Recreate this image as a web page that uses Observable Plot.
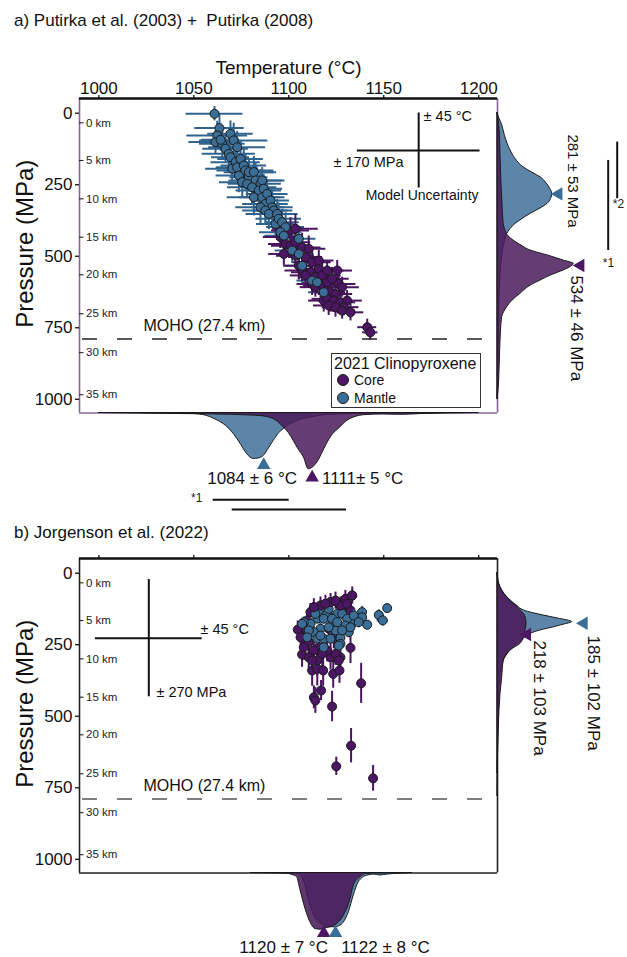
<!DOCTYPE html>
<html>
<head>
<meta charset="utf-8">
<script src="https://cdn.jsdelivr.net/npm/d3@7"></script>
<script src="https://cdn.jsdelivr.net/npm/@observablehq/plot@0.6"></script>
<style>
  body { margin: 0; background: #fff; font-family: "Liberation Sans", Arial, sans-serif; }
  #root { position: relative; width: 627px; height: 957px; overflow: hidden; background: #fff; }
  .panel { position: absolute; left: 0; }
  .title { position: absolute; left: 14px; font-size: 17px; line-height: 20px; color: #111; white-space: pre; }
  .legend { position: absolute; left: 331px; top: 353px; width: 148px; height: 53px; border: 1.3px solid #333; background: #fff; color: #111; }
  .legend .lt { position: absolute; left: 2px; top: 1px; font-size: 16px; line-height: 18px; white-space: nowrap; }
  .legend .row { position: absolute; left: 5px; font-size: 14px; line-height: 16px; white-space: nowrap; }
  .legend .sw { display: inline-block; width: 10px; height: 10px; border-radius: 50%; border: 1px solid #1b1b1b; vertical-align: -1px; margin-right: 5px; }
</style>
</head>
<body>
<div id="root"></div>
<script>
// ---------------- data ----------------
const tempTicks = [1000, 1050, 1100, 1150, 1200];
const pressureTicks = [0, 250, 500, 750, 1000];
const depthKm = [0, 5, 10, 15, 20, 25, 30, 35];
const depthAtP = [33.6, 165.3, 299.3, 433.4, 564.8, 701, 837, 984];
const MOHO_P = 789;
const mohoLabel = "MOHO (27.4 km)";

// Panel a: [T °C, P MPa, ±T, ±P]
const mantleA = [
  [1060.9,2,15,25],[1063.5,52,13,45],[1062.3,78,16,50],[1069.3,72,12,45],[1061.4,101,14,40],
  [1065,107,12,55],[1071,95,18,60],[1064.1,93,10,40],[1066.7,124,12,50],[1068.4,142,14,60],
  [1072.8,119,15,55],[1069.3,154,10,50],[1072,171,13,55],[1074.6,160,12,65],[1070.2,194,14,45],
  [1072.8,189,11,50],[1076.3,183,12,60],[1077.2,200,15,55],[1073.7,218,12,60],[1079,224,10,50],
  [1079,206,13,45],[1081.6,206,12,55],[1082.5,235,14,60],[1075.5,241,12,55],[1078.1,247,10,50],
  [1080.7,259,13,60],[1085.1,247,11,50],[1084.2,270,12,55],[1086,235,12,45],[1086.8,264,10,50],
  [1081.6,294,14,65],[1086,294,12,55],[1088.6,282,11,50],[1087.7,317,12,60],[1090.4,305,10,45],
  [1085.1,329,13,60],[1091.3,329,11,55],[1087.7,340,12,50],[1092.1,340,10,45],[1089.5,352,12,55],
  [1093.9,352,11,50],[1093,387,10,50],[1094.7,369,12,55],[1096.5,381,9,45],[1098.3,398,10,50],
  [1095.6,416,11,55],[1097.4,428,10,45],[1105.3,439,9,40],[1101.8,480,9,45],[1105.3,492,8,40],
  [1107,533,9,45],[1112.3,585,8,40],[1114.9,591,8,40],[1118.4,626,8,35]
];
const coreA = [
  [1095.6,433,9,40],[1100.9,410,10,45],[1103.5,404,12,50],[1098.3,457,9,40],[1100.9,463,10,45],
  [1103.5,451,8,40],[1107,469,10,50],[1110.5,474,9,45],[1097.4,492,8,40],[1103.5,498,10,45],
  [1108.8,503,9,40],[1112.3,521,10,45],[1105.3,533,8,50],[1107,550,9,40],[1111.4,556,10,45],
  [1115.8,544,9,40],[1115.8,515,8,35],[1108.8,567,8,45],[1114,573,9,40],[1117.6,567,10,45],
  [1112.3,597,8,40],[1116.7,602,9,45],[1120.2,591,8,40],[1120.2,550,9,35],[1125.5,550,8,35],
  [1122.8,579,9,40],[1126.3,597,9,40],[1114,608,8,35],[1122,626,8,40],[1124.6,632,9,35],
  [1118.4,655,8,40],[1120.2,649,8,35],[1123.7,655,8,40],[1121,672,8,35],[1127.2,661,8,35],
  [1128.1,608,9,35],[1130.7,655,8,35],[1124.6,678,7,35],[1129,678,8,30],[1128.1,690,7,30],
  [1132.5,696,7,30],[1141.3,748,5,28],[1142.9,766,4,28]
];

// Panel b
const mantleB = [
  [1151.8,122,2,15],[1147.4,146,2,18],[1149.5,165,3,20],[1141.3,180,2,15],[1138.6,136,2,20],
  [1138.6,154,2,18],[1134.2,171,2,20],[1131.6,206,2,20],[1127.2,226,2,18],[1127.2,247,2,20],
  [1123.7,177,2,18],[1120.2,142,2,20],[1115,159,2,15],[1111.4,177,2,20],[1107.9,171,2,18],
  [1116.7,194,2,20],[1113.2,206,2,18],[1115,229,2,20],[1118.4,229,2,18],[1122,229,2,20],
  [1125.5,142,2,18],[1128.1,142,2,20],[1130.7,159,2,18],[1124.6,200,2,20],[1129.8,183,2,18],
  [1121,125,2,20],[1115.8,130,2,18],[1134.2,148,2,20],[1110.5,200,2,15],[1118.4,259,2,20],
  [1107,177,2,18],[1109.7,224,2,20],[1118.4,159,2,18],[1122.8,159,2,20],[1125.5,171,2,18],
  [1128.1,200,2,20],[1132.5,189,2,18],[1136.8,171,2,20],[1121,189,2,18],[1114,142,2,20],
  [1116.7,218,2,18],[1126.3,253,2,20]
];
const coreB = [
  [1104.7,197,2,30],[1107,284,2,45],[1113.2,434,2,40],[1114,445,2,45],[1117,410,2,35],
  [1122.8,466,2,53],[1138.1,385,2,70],[1132.8,603,2,60],[1125,675,2,32],[1144.4,717,2,45],
  [1112.3,340,2,55],[1115,334,2,60],[1118.1,340,2,55],[1123.4,352,2,50],[1126.7,340,2,45],
  [1127.2,294,2,40],[1132.5,261,2,55],[1110.5,294,2,50],[1115,305,2,55],[1122,294,2,45],
  [1120.2,270,2,40],[1115.8,259,2,45],[1110.5,241,2,40],[1107.9,218,2,35],[1109.7,165,2,30],
  [1111.4,136,2,30],[1116.7,113,2,30],[1122,101,2,30],[1127.2,113,2,30],[1129.8,90,2,30],
  [1133.4,78,2,30],[1131.6,125,2,30],[1121,194,2,35],[1123.7,224,2,40],[1113.2,270,2,45],
  [1106.2,224,2,40],[1107.9,259,2,45],[1112.3,305,2,50],[1117.6,282,2,45],[1124.6,282,2,40],
  [1126.3,305,2,45],[1113.2,119,2,30],[1119.3,107,2,30],[1124.6,96,2,30],[1130.7,107,2,30],
  [1132.5,130,2,30],[1108.8,194,2,35]
];

// marginal densities (relative height), [value, density]
const kdePA_mantle = [[0,0],[20,2],[40,4.5],[80,7.5],[130,13],[160,18],[189,26],[210,36],[224,43],[245,49],[260,52],[282,54.7],[300,53.5],[317,50],[335,42],[352,33],[370,25],[387,18],[405,13],[422,9.7],[445,7.5],[468,6],[520,4],[561,3],[650,2],[750,1.5],[850,1],[950,0.6],[1000,0]];
const kdePA_core = [[0,0],[50,2],[150,3],[250,4],[320,5],[380,6],[411,8],[430,11],[445,16],[465,25],[480,33],[497,50],[515,66],[527,76.3],[540,72],[550,66],[565,55],[585,43],[605,32],[631,23],[655,15],[678,9.7],[713,4.7],[760,3.5],[795,3],[900,2],[970,1],[1000,0]];
const kdeTA_mantle = [[1000,0],[1040,0.5],[1050,1],[1055,2],[1062,7],[1067,13],[1071,21],[1075,32],[1078,41],[1081.6,46],[1084,45.5],[1086.8,43],[1089,37],[1092,28],[1095,20],[1097.4,16],[1100,12],[1102.6,9.7],[1106,7],[1111,4.7],[1120,2],[1135,1],[1160,0.5],[1200,0]];
const kdeTA_core = [[1000,0],[1030,0.7],[1050,1.2],[1070,1.8],[1080,2.5],[1085,3],[1092,6],[1097.5,14.7],[1100,20],[1102.6,28],[1105,36],[1108,44.7],[1110.5,56.3],[1113,54],[1115,49.7],[1117.5,41],[1120,31.3],[1123,22],[1127,14.7],[1130,9],[1134,4.7],[1141,2],[1150,1.5],[1160,1.8],[1170,1],[1200,0]];
const kdePB_mantle = [[0,0],[25,1],[49,3],[72,7],[95,13],[115,20],[130,26.3],[140,36],[148,46.3],[158,60],[165,70],[171,74.7],[180,66],[189,56.3],[200,43],[212,33],[229,26.3],[250,19],[270,13],[305,6.3],[352,3],[420,1.5],[550,0.8],[700,0.3],[780,0]];
const kdePB_core = [[0,0],[25,0.5],[50,3],[72,6.3],[107,16.3],[130,23],[142,26.3],[160,28.5],[177,29],[200,28],[224,26.3],[247,23],[265,15],[282,9.7],[305,6.3],[364,4.7],[422,3],[538,1.3],[655,0.3],[700,0]];
const kdeTB_core = [[1080,0],[1095,0.5],[1099,0.7],[1102,2],[1104.4,4.3],[1106,16],[1108.8,36],[1111.4,49.3],[1114,56],[1116.7,56.7],[1119,55.5],[1122,54.3],[1125.5,51],[1129,42.7],[1132.5,26],[1134.2,12.7],[1137.7,4.3],[1141.3,0.7],[1150,0.3],[1160,0]];
const kdeTB_mantle = [[1095,0],[1105,1],[1108,8],[1111,30],[1114,45],[1118,52],[1123.7,54.3],[1127.2,52.7],[1131.6,39.3],[1134.2,22.7],[1136.8,9.3],[1141.3,2.7],[1145,1.5],[1148,2.5],[1152,1.5],[1158,0.7],[1165,0]];

// summary markers & labels
const markA = {pMantle: 282, pCore: 532, tMantle: 1086.8, tCore: 1112.3};
const markB = {pMantle: 175, pCore: 214, tCore: 1118.4, tMantle: 1124.6};
const statLabelsA = {pMantle: "281 ± 53 MPa", pCore: "534 ± 46 MPa", tMantle: "1084 ± 6 °C", tCore: "1111± 5 °C"};
const statLabelsB = {pMantle: "185 ± 102 MPa", pCore: "218 ± 103 MPa", tCore: "1120 ± 7 °C", tMantle: "1122 ± 8 °C"};

// model uncertainty crosses
const crossA = {T: 1168.4, P: 130.4, hT: 32.3, hP: 131};
const crossB = {T: 1026.3, P: 227, hT: 28.1, hP: 205};

// ---------------- styles ----------------
const FONT = '"Liberation Sans", Arial, sans-serif';
const BLUE = "#3b6e97", PURPLE = "#4c1664";
const BLUE_BAR = "#30648f", PURPLE_BAR = "#4a1460";
const BLUE_KDE = "#2f6391", PURPLE_KDE = "#4a1a5a";
const X0 = 989.8, X1 = 1209.9, Y0 = -51.4, Y1 = 1047.9;
const pxC = (X1 - X0) / 418;     // °C per pixel
const pxP = (Y1 - Y0) / 314.5;   // MPa per pixel

function scatter(data, bar) {
  return [
    Plot.ruleY(data, {y: d => d[1], x1: d => d[0] - d[2], x2: d => d[0] + d[2], stroke: bar, strokeWidth: 2}),
    Plot.ruleX(data, {x: d => d[0], y1: d => d[1] - d[3], y2: d => d[1] + d[3], stroke: bar, strokeWidth: 2})
  ];
}
function dots(data, fill) {
  return Plot.dot(data, {x: d => d[0], y: d => d[1], r: 4.5, fill, stroke: "#1b1b1b", strokeWidth: 1});
}
function kdeRight(data, fill, op) {
  return Plot.areaX(data, {y: d => d[0], x1: X1, x2: d => X1 + d[1] * pxC, fill, fillOpacity: op, stroke: "#1a1a1a", strokeWidth: 1, curve: "monotone-y"});
}
function kdeBottom(data, fill, op) {
  return Plot.areaY(data, {x: d => d[0], y1: Y1, y2: d => Y1 + d[1] * pxP, fill, fillOpacity: op, stroke: "#1a1a1a", strokeWidth: 1, curve: "monotone-x"});
}
function commonAxes(showTopLabels, frameColor) {
  const depth = depthKm.map((k, i) => ({k, P: depthAtP[i]}));
  return [
    Plot.ruleX([X0], {stroke: frameColor, strokeWidth: 1.6}),
    Plot.ruleX([X1], {stroke: frameColor, strokeWidth: 1.6}),
    Plot.ruleY([Y1], {stroke: frameColor, strokeWidth: 1.6}),
    Plot.ruleY([Y0], {stroke: "#111", strokeWidth: 2.2}),
    Plot.axisX({anchor: "top", ticks: tempTicks, tickSize: 4, tickPadding: 1, fontSize: 17, label: null, strokeWidth: 1.3,
      tickFormat: showTopLabels ? (d => String(d)) : (() => "")}),
    Plot.axisY({anchor: "left", ticks: pressureTicks, tickSize: 4, tickPadding: 3, fontSize: 17, label: null, strokeWidth: 1.3,
      tickFormat: d => String(d)}),
    Plot.ruleY(depth, {y: "P", x1: X0, x2: X0 + 4.5 * pxC, stroke: "#222", strokeWidth: 1.1}),
    Plot.text(depth, {y: "P", x: X0, dx: 6.5, text: d => d.k + " km", textAnchor: "start", fontSize: 11.5, fill: "#222"}),
    Plot.ruleY([MOHO_P], {stroke: showTopLabels ? "#222" : "#555", strokeWidth: 1.4, strokeDasharray: "15,20", strokeDashoffset: 32}),
    Plot.text([mohoLabel], {x: 1023.5, y: MOHO_P, dy: -13, textAnchor: "start", fontSize: 16, fill: "#111"}),
    Plot.text(["Pressure (MPa)"], {frameAnchor: "left", textAnchor: "middle", dx: -54, dy: -12, rotate: -90, fontSize: 24, fill: "#111"})
  ];
}
function crossMarks(c) {
  return [
    Plot.ruleY([c], {y: "P", x1: d => d.T - d.hT, x2: d => d.T + d.hT, stroke: "#111", strokeWidth: 2}),
    Plot.ruleX([c], {x: "T", y1: d => d.P - d.hP, y2: d => d.P + d.hP, stroke: "#111", strokeWidth: 2})
  ];
}

// ---------------- panel a ----------------
const panelA = Plot.plot({
  width: 627, height: 515,
  marginTop: 98, marginBottom: 102.5, marginLeft: 79, marginRight: 130,
  x: {domain: [X0, X1], label: null},
  y: {domain: [Y0, Y1], reverse: true, label: null},
  style: {fontFamily: FONT, fontSize: "17px", color: "#111", background: "transparent", overflow: "visible"},
  marks: [
    ...commonAxes(true, "#86659a"),
    kdeBottom(kdeTA_mantle, BLUE_KDE, 0.78),
    kdeBottom(kdeTA_core, PURPLE_KDE, 0.85),
    kdeRight(kdePA_mantle, BLUE_KDE, 0.78),
    kdeRight(kdePA_core, PURPLE_KDE, 0.85),
    Plot.ruleY([Y0], {stroke: "#111", strokeWidth: 2.2}),
    ...scatter(mantleA, BLUE_BAR),
    ...scatter(coreA, PURPLE_BAR),
    dots(coreA, PURPLE),
    dots(mantleA, BLUE),
    ...crossMarks(crossA),
    Plot.text(["± 45 °C"], {x: 1171.0, y: 11.5, textAnchor: "start", fontSize: 14.5, fill: "#111"}),
    Plot.text(["± 170 MPa"], {x: 1160.4, y: 171, textAnchor: "end", fontSize: 14.5, fill: "#111"}),
    Plot.text(["Model Uncertainty"], {x: 1170.2, y: 288, fontSize: 14, fill: "#111"}),
    Plot.text(["Temperature (°C)"], {frameAnchor: "top", dy: -38, fontSize: 19, fill: "#111"}),
    // summary triangles
    Plot.dot([markA.pMantle], {y: d => d, x: X1, dx: 61, symbol: "triangle", r: 5, rotate: -90, fill: BLUE}),
    Plot.dot([markA.pCore], {y: d => d, x: X1, dx: 83, symbol: "triangle", r: 5, rotate: -90, fill: PURPLE}),
    Plot.dot([markA.tMantle], {x: d => d, y: Y1, dy: 52, symbol: "triangle", r: 5, fill: BLUE}),
    Plot.dot([markA.tCore], {x: d => d, y: Y1, dy: 64.5, symbol: "triangle", r: 5, fill: PURPLE}),
    Plot.text([statLabelsA.pMantle], {x: X1, dx: 75, y: 74, rotate: 90, textAnchor: "start", fontSize: 15, fill: "#111"}),
    Plot.text([statLabelsA.pCore], {x: X1, dx: 79, y: 567, rotate: 90, textAnchor: "start", fontSize: 17, fill: "#111"}),
    Plot.text([statLabelsA.tMantle], {x: 1080.7, y: Y1, dy: 65.8, fontSize: 17, fill: "#111"}),
    Plot.text([statLabelsA.tCore], {x: 1117.5, y: Y1, dy: 65.8, textAnchor: "start", fontSize: 17, fill: "#111"}),
    // significance brackets
    Plot.ruleY([{a: 1060.2, b: 1100.2}], {y: Y1, dy: 86.8, x1: "a", x2: "b", stroke: "#111", strokeWidth: 2}),
    Plot.ruleY([{a: 1070.2, b: 1130.4}], {y: Y1, dy: 96.5, x1: "a", x2: "b", stroke: "#111", strokeWidth: 2}),
    Plot.text(["*1"], {x: 1054.5, y: Y1, dy: 85.5, textAnchor: "end", fontSize: 12, fill: "#222"}),
    Plot.ruleX([{a: 101, b: 299}], {x: X1, dx: 119.7, y1: "a", y2: "b", stroke: "#111", strokeWidth: 2}),
    Plot.ruleX([{a: 165, b: 480}], {x: X1, dx: 110.7, y1: "a", y2: "b", stroke: "#111", strokeWidth: 2}),
    Plot.text(["*2"], {x: X1, dx: 121, y: 317, fontSize: 12, fill: "#222"}),
    Plot.text(["*1"], {x: X1, dx: 111, y: 524, fontSize: 12, fill: "#222"})
  ]
});

// ---------------- panel b ----------------
const panelB = Plot.plot({
  width: 627, height: 442,
  marginTop: 43, marginBottom: 84.5, marginLeft: 79, marginRight: 130,
  x: {domain: [X0, X1], label: null},
  y: {domain: [Y0, Y1], reverse: true, label: null},
  style: {fontFamily: FONT, fontSize: "17px", color: "#111", background: "transparent", overflow: "visible"},
  marks: [
    ...commonAxes(false, "#222"),
    kdeBottom(kdeTB_mantle, BLUE_KDE, 0.78),
    kdeBottom(kdeTB_core, PURPLE_KDE, 0.88),
    kdeRight(kdePB_mantle, BLUE_KDE, 0.78),
    kdeRight(kdePB_core, PURPLE_KDE, 0.88),
    Plot.ruleY([Y0], {stroke: "#111", strokeWidth: 2.2}),
    ...scatter(coreB, PURPLE_BAR),
    dots(coreB, PURPLE),
    ...scatter(mantleB, BLUE_BAR),
    dots(mantleB, BLUE),
    dots(coreB.filter(d => d[1] < 120), PURPLE),
    ...crossMarks(crossB),
    Plot.text(["± 45 °C"], {x: 1053.5, y: 198, textAnchor: "start", fontSize: 14.5, fill: "#111"}),
    Plot.text(["± 270 MPa"], {x: 1030.3, y: 418, textAnchor: "start", fontSize: 14.5, fill: "#111"}),
    Plot.dot([markB.pMantle], {y: d => d, x: X1, dx: 86.3, symbol: "triangle", r: 5, rotate: -90, fill: BLUE}),
    Plot.dot([markB.pCore], {y: d => d, x: X1, dx: 29.7, symbol: "triangle", r: 5, rotate: -90, fill: PURPLE}),
    Plot.dot([markB.tCore], {x: d => d, y: Y1, dy: 60, symbol: "triangle", r: 5, fill: PURPLE}),
    Plot.dot([markB.tMantle], {x: d => d, y: Y1, dy: 60, symbol: "triangle", r: 5, fill: BLUE}),
    Plot.text([statLabelsB.pMantle], {x: X1, dx: 96, y: 218, rotate: 90, textAnchor: "start", fontSize: 17, fill: "#111"}),
    Plot.text([statLabelsB.pCore], {x: X1, dx: 41.5, y: 235, rotate: 90, textAnchor: "start", fontSize: 17, fill: "#111"}),
    Plot.text([statLabelsB.tCore], {x: 1097.3, y: Y1, dy: 74.5, fontSize: 17, fill: "#111"}),
    Plot.text([statLabelsB.tMantle], {x: 1150.9, y: Y1, dy: 74.5, fontSize: 17, fill: "#111"})
  ]
});

// ---------------- layout ----------------
const root = document.getElementById("root");
function place(el, top) {
  const w = document.createElement("div");
  w.className = "panel";
  w.style.top = top + "px";
  w.appendChild(el);
  root.appendChild(w);
}
place(panelA, 0);
place(panelB, 515);

const tA = document.createElement("div");
tA.className = "title"; tA.style.top = "11px";
tA.textContent = "a) Putirka et al. (2003) +  Putirka (2008)";
root.appendChild(tA);
const tB = document.createElement("div");
tB.className = "title"; tB.style.top = "523px";
tB.textContent = "b) Jorgenson et al. (2022)";
root.appendChild(tB);

const lg = document.createElement("div");
lg.className = "legend";
lg.innerHTML =
  '<div class="lt">2021 Clinopyroxene</div>' +
  '<div class="row" style="top:18px"><span class="sw" style="background:' + PURPLE + '"></span>Core</div>' +
  '<div class="row" style="top:36px"><span class="sw" style="background:' + BLUE + '"></span>Mantle</div>';
root.appendChild(lg);
</script>
</body>
</html>
